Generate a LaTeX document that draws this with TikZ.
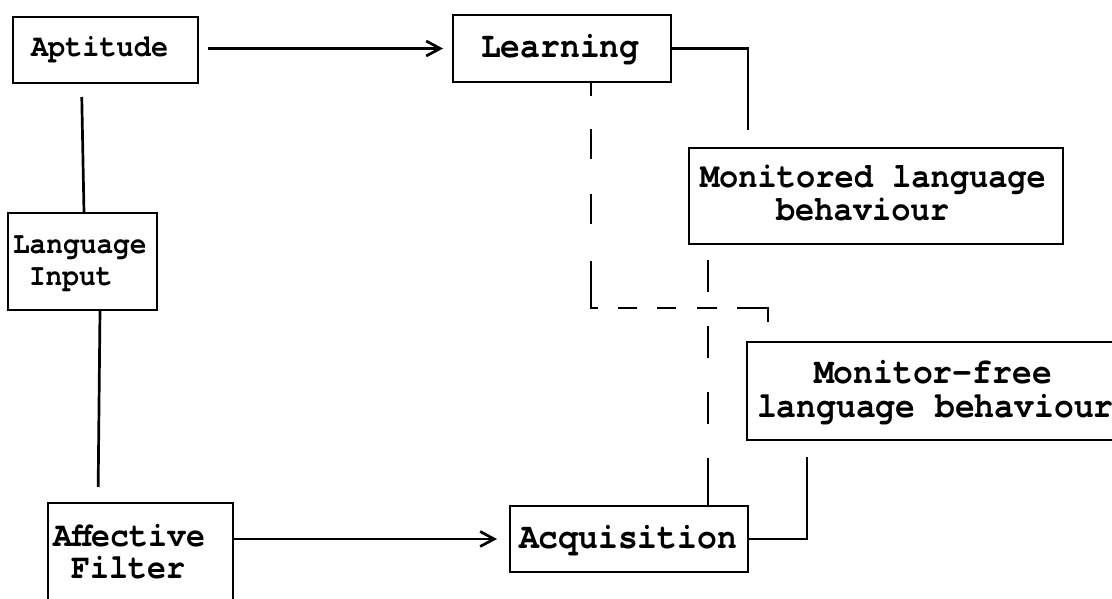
\documentclass[tikz,border=0pt]{standalone}
\usepackage{fontspec}
\newfontfamily\typew{TeX Gyre Cursor}[FakeStretch=0.91]
\usetikzlibrary{arrows.meta}
\tikzset{
  box/.style={draw, rectangle, inner sep=0pt, outer sep=0pt, anchor=north west},
  % base west of a multi-line label sits on its last line
  txt/.style={inner sep=0pt, outer sep=0pt, anchor=base west, align=left},
  chev/.style={-{Straight Barb[length=14pt, width=15pt]}},
  longdash/.style={dash pattern=on 32pt off 34pt on 32pt off 34pt on 32pt off 34pt on 48pt off 10pt},
  elbowdash/.style={dash pattern=on 14pt off 33pt on 30pt off 35pt on 30pt off 37pt on 54pt off 20pt on 19pt off 20pt on 19pt off 21pt on 20pt off 20pt on 45pt off 10pt}
}
\begin{document}
\begin{tikzpicture}[x=1pt, y=-1pt, line width=2.7pt, line join=miter]
  \useasboundingbox (0,0) rectangle (1112,599);
  \clip (0,0) rectangle (1112,599);

  % boxes
  \node[box, minimum width=185pt, minimum height=66pt] (apt)   at (13,17)  {};
  \node[box, minimum width=218pt, minimum height=67pt] (learn) at (453,15) {};
  \node[box, minimum width=374pt, minimum height=96pt] (mon)   at (689,148) {};
  \node[box, minimum width=149pt, minimum height=97pt] (li)    at (8,213)  {};
  \node[box, minimum width=400pt, minimum height=98pt] (free)  at (747,342) {};
  \node[box, minimum width=185pt, minimum height=120pt] (aff)  at (48,503) {};
  \node[box, minimum width=238pt, minimum height=66pt] (acq)   at (510,506) {};

  % labels
  \node[txt, font=\typew\bfseries\fontsize{31.4}{33}\selectfont] (apt-t)   at (31,57)  {Aptitude};
  \node[txt, font=\typew\bfseries\fontsize{36.3}{38}\selectfont] (learn-t) at (481,58) {Learning};
  \node[txt, font=\typew\bfseries\fontsize{35.2}{33}\selectfont] (mon-t)   at (700,221)
    {Monitored language\\\hspace*{76pt}behaviour};
  \node[txt, font=\typew\bfseries\fontsize{30.6}{32}\selectfont] (li-t)    at (13,285)
    {Language\\\hspace*{16pt}Input};
  \node[txt, font=\typew\bfseries\fontsize{36.3}{34}\selectfont] (free-t)  at (757,417)
    {\hspace*{57pt}Monitor-free\\language behaviour};
  \node[txt, font=\typew\bfseries\fontsize{34.8}{32}\selectfont] (aff-t)   at (53,578)
    {Affective\\\hspace*{18pt}Filter};
  \node[txt, font=\typew\bfseries\fontsize{36.3}{38}\selectfont] (acq-t)   at (519,548) {Acquisition};

  % open ends of the elbow lines
  \coordinate (lend) at (768,323);
  \coordinate (mend) at (748,130);
  \coordinate (fend) at (807,457);

  % connectors
  \draw[chev, shorten <=10pt, shorten >=10pt] (apt.east |- learn.west) -- (learn.west);
  \draw[chev, shorten >=13pt] (aff.east |- acq.west) -- (acq.west);
  \draw (learn.east) -| (mend);
  \draw (acq.east) -| (fend);
  \draw[shorten <=14pt] ([xshift=-24pt]apt.south) -- ([xshift=1.5pt]li.north);
  \draw[shorten >=16pt] ([xshift=17.5pt]li.south) -- ([xshift=-42.5pt]aff.north);
  \draw[elbowdash] ([xshift=29pt]learn.south) |- ([yshift=15pt]lend) -- (lend);
  \draw[longdash, shorten <=16pt] ([xshift=19pt]mon.south west) -- ([xshift=19pt]mon.south west |- acq.north);
\end{tikzpicture}
\end{document}
